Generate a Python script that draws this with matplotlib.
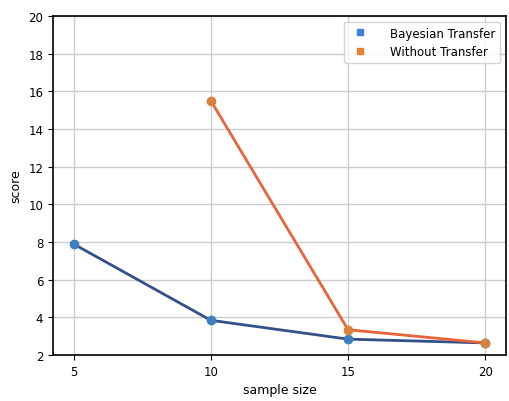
import matplotlib
matplotlib.use("Agg")
import matplotlib.pyplot as plt
from matplotlib.lines import Line2D

# data
xBayes = [5, 10, 15, 20]
yBayes = [7.9, 3.85, 2.85, 2.65]
xNoTransfer = [10, 15, 20]
yNoTransfer = [15.5, 3.35, 2.65]
labels = ["Bayesian Transfer", "Without Transfer"]

fig = plt.figure(figsize=(5.09, 4.02), dpi=100)
ax = fig.add_axes([0.104, 0.114, 0.89, 0.844])

ax.plot(xBayes, yBayes, color="#34508a", linewidth=2, marker="o",
        markersize=6, markerfacecolor="#3f7fbf", markeredgecolor="#3f7fbf", zorder=3)
ax.plot(xNoTransfer, yNoTransfer, color="#e8643a", linewidth=2, marker="o",
        markersize=6, markerfacecolor="#d9823e", markeredgecolor="#d9823e", zorder=3)

ax.set_ylim(2, 20)
ax.set_yticks(range(2, 21, 2))
ax.set_xticks([5, 10, 15, 20])
ax.grid(True, color="#cccccc", linewidth=1)
ax.set_axisbelow(True)
ax.tick_params(labelsize=8.5)
for s in ax.spines.values():
    s.set_linewidth(1.2)
ax.set_xlabel("sample size", fontsize=9)
ax.set_ylabel("score", fontsize=9)

handles = [Line2D([], [], linestyle="", marker="s", markersize=5, color="#3f7fe0"),
           Line2D([], [], linestyle="", marker="s", markersize=5, color="#e8802e")]
ax.legend(handles, labels, loc="upper right", fontsize=8.5, handletextpad=1.5)

fig.savefig("out.png", dpi=100)
